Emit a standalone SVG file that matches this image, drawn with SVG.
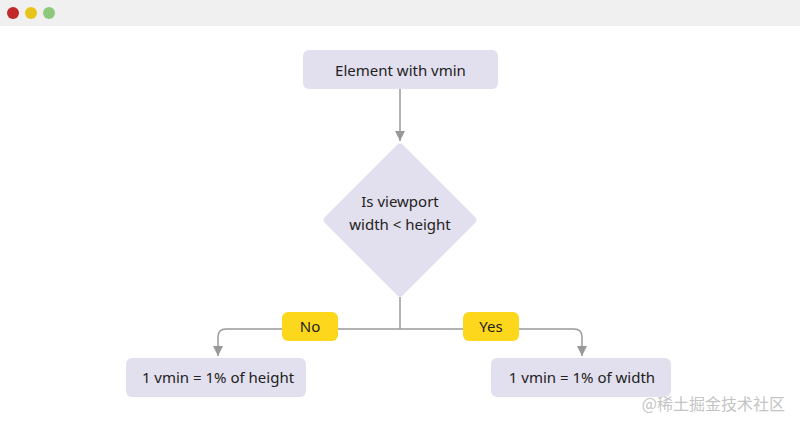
<svg xmlns="http://www.w3.org/2000/svg" width="800" height="430" viewBox="0 0 800 430">
<style>
.node{fill:#e2dfee}
.lbl{fill:#fcd71c}
.t{font-family:"Noto Sans","Liberation Sans",sans-serif;font-size:15px;fill:#222;text-anchor:middle}
.c{fill:none;stroke:#999;stroke-width:1.5}
</style>
<defs>
<marker id="ah" viewBox="0 0 10 10" refX="10" refY="5" markerWidth="10" markerHeight="10" markerUnits="userSpaceOnUse" orient="auto">
<path d="M0,0 L10,5 L0,10 z" fill="#999"/>
</marker>
</defs>
<rect width="800" height="430" fill="#fff"/>
<rect width="800" height="26" fill="#f0f0f0"/>
<circle cx="13" cy="13" r="6" fill="#c0282a"/>
<circle cx="31" cy="13" r="6" fill="#e6c41a"/>
<circle cx="49" cy="13" r="6" fill="#8ec87c"/>
<g id="connectors">
<path class="c" d="M400,89 V141" marker-end="url(#ah)"/>
<path class="c" d="M400,297 V329"/>
<path class="c" d="M400,329 H226 Q218,329 218,337 V356" marker-end="url(#ah)"/>
<path class="c" d="M400,329 H574 Q582,329 582,337 V356" marker-end="url(#ah)"/>
</g>
<g id="start">
<rect class="node" x="303" y="50" width="195" height="39" rx="6"/>
<text class="t" x="400.5" y="75.5">Element with vmin</text>
</g>
<g id="decision">
<path class="node" d="M397,145 Q400,142 403,145 L475,217 Q478,220 475,223 L403,295 Q400,298 397,295 L325,223 Q322,220 325,217 Z"/>
<text class="t" x="400" y="207">Is viewport</text>
<text class="t" x="400" y="230">width &lt; height</text>
</g>
<g id="label-no">
<rect class="lbl" x="282" y="312" width="56" height="29" rx="6"/>
<text class="t" x="310" y="331.5">No</text>
</g>
<g id="label-yes">
<rect class="lbl" x="463" y="312" width="56" height="29" rx="6"/>
<text class="t" x="491" y="331.5">Yes</text>
</g>
<g id="height">
<rect class="node" x="126" y="358" width="180" height="39" rx="6"/>
<text class="t" x="218" y="383">1 vmin = 1% of height</text>
</g>
<g id="width">
<rect class="node" x="491" y="358" width="180" height="39" rx="6"/>
<text class="t" x="582" y="383">1 vmin = 1% of width</text>
</g>
<text x="785" y="410" font-family="'Noto Sans CJK SC',sans-serif" font-size="16" fill="#c4c4c4" text-anchor="end">@稀土掘金技术社区</text>
</svg>
